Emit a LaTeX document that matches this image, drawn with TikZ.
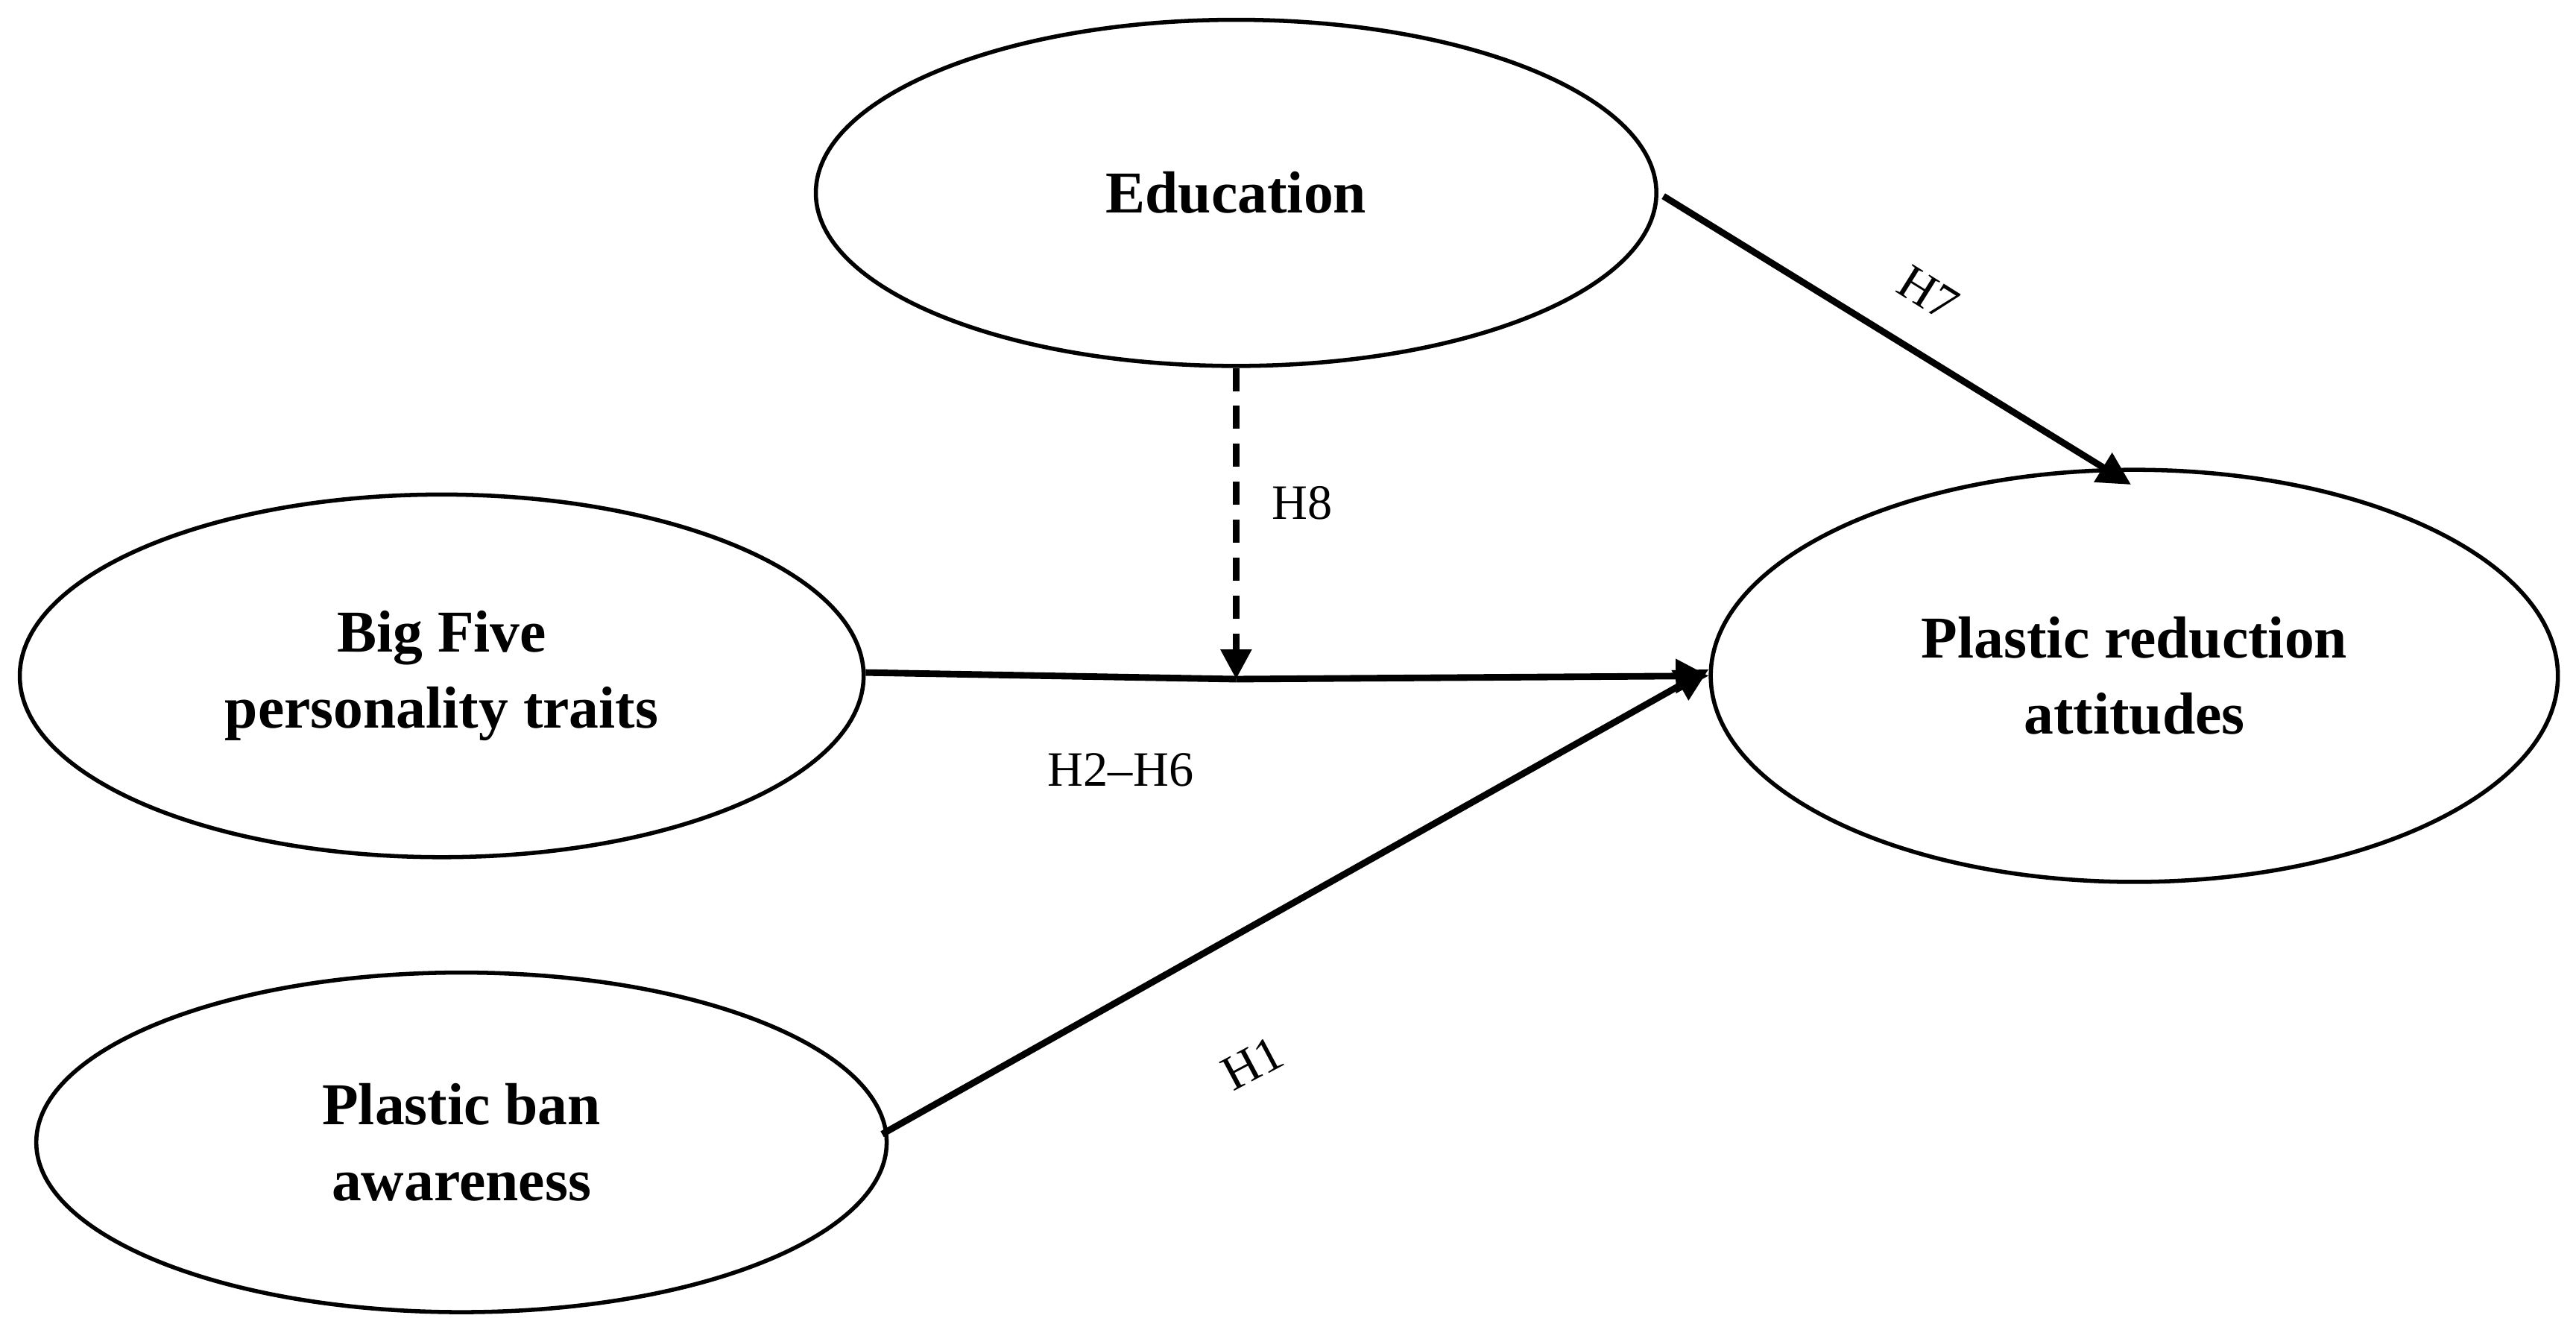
\documentclass[tikz,border=0pt]{standalone}
\usepackage{fontspec}
\setmainfont{Liberation Serif}
\usetikzlibrary{shapes.geometric,arrows.meta}
\begin{document}
\begin{tikzpicture}[x=1pt,y=-1pt,
  ell/.style={draw,line width=2.5pt,ellipse,inner sep=0pt,font=\bfseries\fontsize{36}{46}\selectfont,align=center},
  conn/.style={line width=4pt,-{Triangle[length=20pt,width=20pt]}},
  lab/.style={font=\fontsize{30}{36}\selectfont}]
\useasboundingbox (0,0) rectangle (1563,805);
\node[ell,minimum width=510pt,minimum height=210pt] (edu) at (750,117) {Education};
\node[ell,minimum width=512pt,minimum height=220pt] (big) at (268,410) {Big Five\\personality traits};
\node[ell,minimum width=514pt,minimum height=250pt] (pra) at (1295,410) {Plastic reduction\\attitudes};
\node[ell,minimum width=516pt,minimum height=206pt] (pba) at (280,693) {Plastic ban\\awareness};
\coordinate (m) at (750,412);
\draw[conn] (edu.east) ++(3,2) -- (1293,294) coordinate (t7);
\draw[line width=4pt] (big.east) ++(0,-2) -- (m);
\draw[conn] (m) -- (pra.west);
\draw[conn] (pba.east) ++(-4,-5) -- ([yshift=4pt]pra.west);
\draw[line width=4pt,dash pattern=on 14pt off 9pt,-{Triangle[length=18pt,width=18pt]}] (edu.south) -- (m);
\node[lab,rotate=-32] at (1170,178) {H7};
\node[lab] at (790,305) {H8};
\node[lab] at (680,467) {H2–H6};
\node[lab,rotate=28] at (760,645) {H1};
\end{tikzpicture}
\end{document}
